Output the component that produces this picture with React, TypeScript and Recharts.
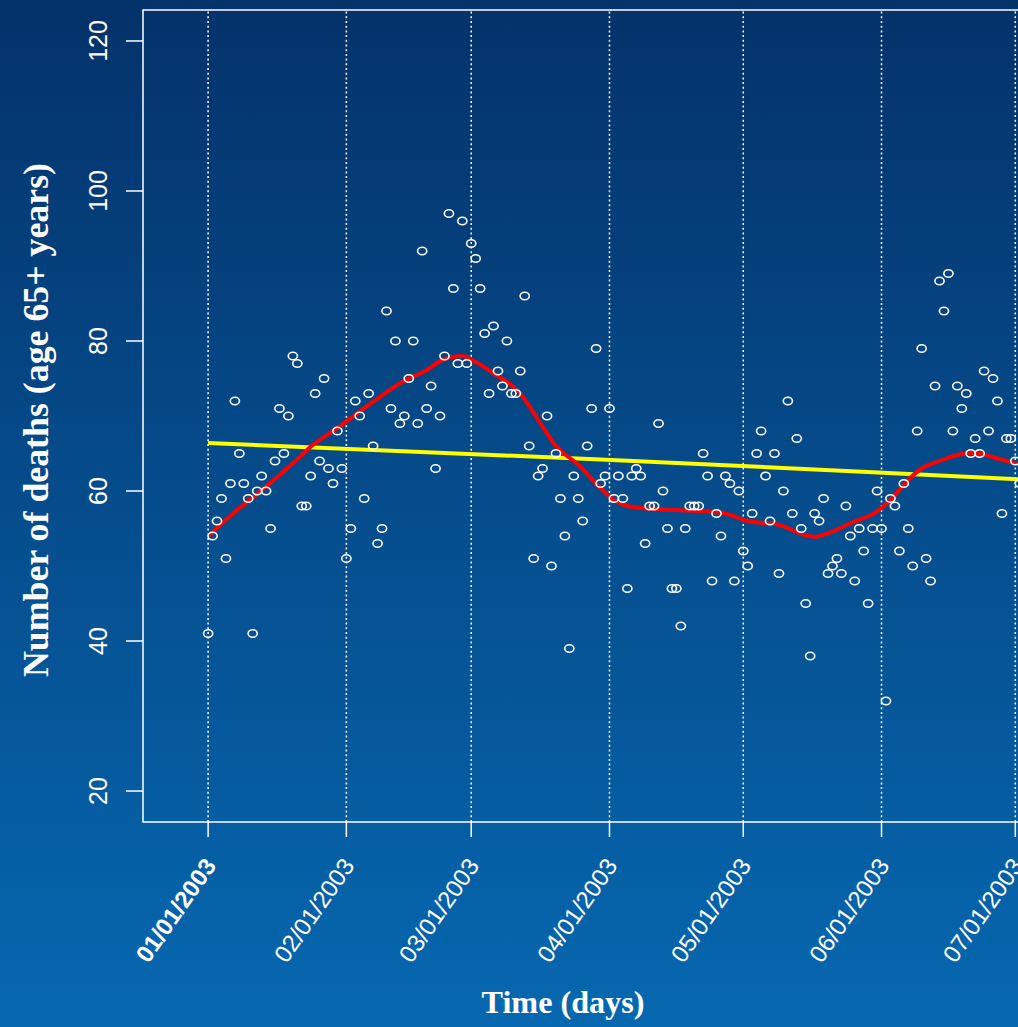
import React from 'react';
import {
  ComposedChart,
  XAxis,
  YAxis,
  Scatter,
  Line,
  ReferenceLine,
  ReferenceArea,
} from 'recharts';

// Daily deaths (age 65+), day 0 = 01/01/2003
const deathCounts: number[] = [
  41, 54, 56, 59, 51, 61, 72, 65, 61, 59,
  41, 60, 62, 60, 55, 64, 71, 65, 70, 78,
  77, 58, 58, 62, 73, 64, 75, 63, 61, 68,
  63, 51, 55, 72, 70, 59, 73, 66, 53, 55,
  84, 71, 80, 69, 70, 75, 80, 69, 92, 71,
  74, 63, 70, 78, 97, 87, 77, 96, 77, 93,
  91, 87, 81, 73, 82, 76, 74, 80, 73, 73,
  76, 86, 66, 51, 62, 63, 70, 50, 65, 59,
  54, 39, 62, 59, 56, 66, 71, 79, 61, 62,
  71, 59, 62, 59, 47, 62, 63, 62, 53, 58,
  58, 69, 60, 55, 47, 47, 42, 55, 58, 58,
  58, 65, 62, 48, 57, 54, 62, 61, 48, 60,
  52, 50, 57, 65, 68, 62, 56, 65, 49, 60,
  72, 57, 67, 55, 45, 38, 57, 56, 59, 49,
  50, 51, 49, 58, 54, 48, 55, 52, 45, 55,
  60, 55, 32, 59, 58, 52, 61, 55, 50, 68,
  79, 51, 48, 74, 88, 84, 89, 68, 74, 71,
  73, 65, 67, 65, 76, 68, 75, 72, 57, 67,
  67, 64, 61,
];

// Smooth (red) curve
const smoothDays: number[] = [0, 6, 12, 19, 23, 29, 37, 44, 49, 53, 57, 60, 64, 70, 74, 78, 83, 87, 91, 95, 103, 112, 116, 121, 128, 134, 136, 140, 144, 150, 153, 157, 160, 164, 168, 172, 176, 181, 184];
const smoothValues: number[] = [54, 57.2, 60.1, 63.7, 65.9, 68.4, 71.9, 74.7, 76.1, 77.6, 78, 77.2, 75.7, 73, 69.5, 66, 63.5, 61, 58.8, 57.9, 57.5, 57.3, 57, 56, 55.5, 54.1, 53.9, 54.6, 55.7, 57.3, 58.8, 61.5, 63, 64, 64.8, 65.1, 64.5, 63.7, 63.2];

// Long-term trend (yellow)
const trendDays: number[] = [0, 88, 121, 149, 184];
const trendValues: number[] = [66.4, 64.2, 63.3, 62.5, 61.5];

const tickDays: number[] = [0, 31, 59, 90, 120, 151, 181];
const tickLabels: string[] = ['01/01/2003', '02/01/2003', '03/01/2003', '04/01/2003', '05/01/2003', '06/01/2003', '07/01/2003'];
const yTicks: number[] = [20, 40, 60, 80, 100, 120];

const X_DOMAIN: [number, number] = [-14.6, 189.9];
const Y_DOMAIN: [number, number] = [15.87, 124.13];

const SANS = '"Liberation Sans", Arial, sans-serif';
const SERIF = '"Liberation Serif", "Times New Roman", serif';

const Ring = (props: any) => {
  const { cx, cy } = props;
  if (cx == null || cy == null) return null;
  return <ellipse cx={cx} cy={cy} rx={4.6} ry={3.8} fill="none" stroke="#ffffff" strokeWidth={1.6} />;
};

const XTick = (props: any) => {
  const { x, y, payload } = props;
  const idx = tickDays.indexOf(payload.value);
  const label = idx >= 0 ? tickLabels[idx] : '';
  const ax = x + 2;
  const ay = y + 22;
  return (
    <text
      x={ax}
      y={ay}
      transform={`rotate(-55, ${ax}, ${ay})`}
      textAnchor="end"
      dominantBaseline="central"
      fill="#ffffff"
      fontFamily={SANS}
      fontSize={24}
      fontWeight={idx === 0 ? 'bold' : 'normal'}
    >
      {label}
    </text>
  );
};

const YTick = (props: any) => {
  const { x, y, payload } = props;
  const ax = x - 17;
  return (
    <text
      x={ax}
      y={y}
      transform={`rotate(-90, ${ax}, ${y})`}
      textAnchor="middle"
      fill="#ffffff"
      fontFamily={SANS}
      fontSize={25}
    >
      {payload.value}
    </text>
  );
};

export default function App() {
  const points = deathCounts.map((v, i) => ({ day: i, deaths: v }));
  const smooth = smoothDays.map((d, i) => ({ day: d, value: smoothValues[i] }));
  const trend = trendDays.map((d, i) => ({ day: d, value: trendValues[i] }));

  return (
    <div
      style={{
        position: 'absolute',
        left: 0,
        top: 0,
        width: 1018,
        height: 1027,
        overflow: 'hidden',
        background: 'linear-gradient(180deg, #04326a 0%, #0668b0 100%)',
      }}
    >
      <ComposedChart width={1060} height={1027} margin={{ top: 10, right: 5, bottom: 0, left: 0 }}>
        <XAxis
          type="number"
          dataKey="day"
          domain={X_DOMAIN}
          allowDataOverflow
          ticks={tickDays}
          interval={0}
          height={205}
          tickSize={15}
          axisLine={false}
          tickLine={{ stroke: '#ffffff', strokeWidth: 1.5 }}
          tick={<XTick />}
          label={{
            content: () => (
              <text x={563} y={1013} textAnchor="middle" fill="#ffffff" fontFamily={SERIF} fontWeight="bold" fontSize={31} textLength={163} lengthAdjust="spacingAndGlyphs">
                Time (days)
              </text>
            ),
          }}
        />
        <YAxis
          type="number"
          domain={Y_DOMAIN}
          allowDataOverflow
          ticks={yTicks}
          interval={0}
          width={143}
          tickSize={17}
          axisLine={false}
          tickLine={{ stroke: '#ffffff', strokeWidth: 1.5 }}
          tick={<YTick />}
          label={{
            content: () => (
              <text x={48} y={420} transform="rotate(-90, 48, 420)" textAnchor="middle" fill="#ffffff" fontFamily={SERIF} fontWeight="bold" fontSize={36} textLength={514} lengthAdjust="spacingAndGlyphs">
                Number of deaths (age 65+ years)
              </text>
            ),
          }}
        />
        <ReferenceArea
          x1={X_DOMAIN[0]}
          x2={X_DOMAIN[1]}
          y1={Y_DOMAIN[0]}
          y2={Y_DOMAIN[1]}
          fill="none"
          fillOpacity={0}
          stroke="#ffffff"
          strokeWidth={1.5}
          ifOverflow="visible"
        />
        {tickDays.map((d) => (
          <ReferenceLine key={d} x={d} stroke="#ffffff" strokeWidth={1.5} strokeDasharray="2 2.7" />
        ))}
        <Scatter data={points} dataKey="deaths" shape={Ring} isAnimationActive={false} />
        <Line data={trend} dataKey="value" type="linear" stroke="#ffff00" strokeWidth={4} dot={false} activeDot={false} isAnimationActive={false} />
        <Line data={smooth} dataKey="value" type="monotone" stroke="#ff0000" strokeWidth={4} dot={false} activeDot={false} isAnimationActive={false} />
      </ComposedChart>
    </div>
  );
}
